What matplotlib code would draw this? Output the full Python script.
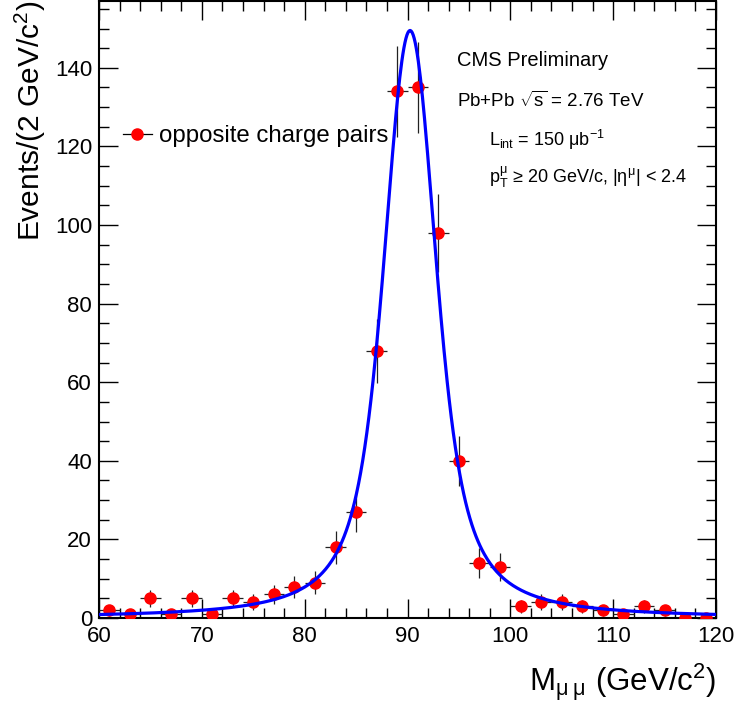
import numpy as np
import matplotlib
matplotlib.use("Agg")
import matplotlib.pyplot as plt
from matplotlib.lines import Line2D
from matplotlib.ticker import MultipleLocator

plt.rcParams['font.family'] = ['Liberation Sans', 'DejaVu Sans']
plt.rcParams['mathtext.fontset'] = 'custom'
plt.rcParams['mathtext.rm'] = 'Liberation Sans'
plt.rcParams['mathtext.it'] = 'Liberation Sans'
plt.rcParams['mathtext.bf'] = 'Liberation Sans:bold'

# dimuon invariant mass, 2 GeV bins
bin_centers = [61, 63, 65, 67, 69, 71, 73, 75, 77, 79, 81, 83, 85, 87, 89,
               91, 93, 95, 97, 99, 101, 103, 105, 107, 109, 111, 113, 115, 117, 119]
counts = [2, 1, 5, 1, 5, 1, 5, 4, 6, 8, 9, 18, 27, 68, 134,
          135, 98, 40, 14, 13, 3, 4, 4, 3, 2, 1, 3, 2, 0, 0]
count_errors = [1.4, 1.0, 2.2, 1.0, 2.2, 1.0, 2.2, 2.0, 2.4, 2.8, 3.0, 4.2, 5.2, 8.2, 11.6,
                11.6, 9.9, 6.3, 3.7, 3.6, 1.7, 2.0, 2.0, 1.7, 1.4, 1.0, 1.7, 1.4, 0, 0]
bin_half_width = 1.0

# fit: Breit-Wigner smeared with gaussian resolution
fit_mass = 90.25
fit_gamma = 2.0     # BW half width
fit_sigma = 1.5     # resolution
fit_peak = 149.5


def voigt_shape(x, mass, gamma, sigma):
    t = np.linspace(-6 * sigma, 6 * sigma, 241)
    g = np.exp(-0.5 * (t / sigma) ** 2)
    dx = x[:, None] - mass - t[None, :]
    bw = gamma / (dx ** 2 + gamma ** 2)
    return (bw * g).sum(axis=1)


fig = plt.figure(figsize=(7.38, 7.06), dpi=100)
ax = fig.add_axes([99 / 738, 1 - 618 / 706, 617 / 738, 617 / 706])

ax.errorbar(bin_centers, counts, yerr=count_errors, xerr=bin_half_width,
            fmt='o', color='red', markersize=8, ecolor='#222222', elinewidth=0.9,
            capsize=0, zorder=3)

m = np.linspace(60, 120, 600)
shape = voigt_shape(m, fit_mass, fit_gamma, fit_sigma)
fit = fit_peak * shape / shape.max()
ax.plot(m, fit, color='#0000ff', lw=2.3, zorder=4)

ax.set_xlim(60, 120)
ax.set_ylim(0, 157)
ax.xaxis.set_major_locator(MultipleLocator(10))
ax.xaxis.set_minor_locator(MultipleLocator(2))
ax.yaxis.set_major_locator(MultipleLocator(20))
ax.yaxis.set_minor_locator(MultipleLocator(5))
ax.tick_params(which='both', direction='in', top=True, right=True, labelsize=16,
               width=1.0, color='black')
ax.tick_params(which='major', length=13.5)
ax.tick_params(which='minor', length=7)
ax.tick_params(axis='x', pad=6)
ax.tick_params(axis='y', pad=5)
for s in ax.spines.values():
    s.set_linewidth(1.5)

ax.set_xlabel(r'M$_{\mu\;\mu}$ (GeV/c$^{2}$)', fontsize=22.5, loc='right')
ax.xaxis.set_label_coords(1.0, -0.07)
ax.set_ylabel(r'Events/(2 GeV/c$^{2}$)', fontsize=21.5, loc='top')
ax.yaxis.set_label_coords(-0.083, 1.0)

handle = Line2D([], [], color='black', lw=0.9, marker='o', markersize=8,
                markerfacecolor='red', markeredgecolor='red')
ax.legend([handle], ['opposite charge pairs'], loc='center left',
          bbox_to_anchor=((123 - 99) / 617, (618 - 136) / 617), frameon=False,
          fontsize=17.3, handlelength=1.2, handletextpad=0.3, borderpad=0,
          borderaxespad=0)

tx = dict(transform=ax.transAxes, va='center', ha='left')
ax.text((457 - 99) / 617, (618 - 61) / 617, 'CMS Preliminary', fontsize=14.5, **tx)
ax.text((457 - 99) / 617, (618 - 101) / 617, r'Pb+Pb $\sqrt{s}$ = 2.76 TeV',
        fontsize=13.5, **tx)
ax.text((489 - 99) / 617, (618 - 140) / 617, r'L$_{\rm int}$ = 150 $\mu$b$^{-1}$',
        fontsize=13, **tx)
ax.text((489 - 99) / 617, (618 - 177) / 617,
        r'p$_{\rm T}^{\mu}$ ≥ 20 GeV/c, |$\eta^{\mu}$| < 2.4', fontsize=13, **tx)

fig.savefig('out.png', dpi=100)
